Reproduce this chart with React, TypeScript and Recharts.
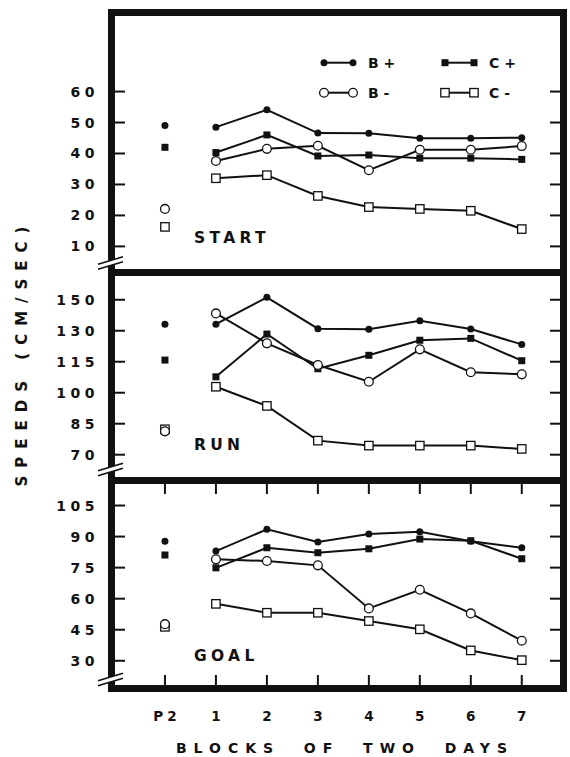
import React from "react";
import { ComposedChart, Line, XAxis, YAxis, Legend } from "recharts";

// categories (P2 = pretraining block, then blocks of two days)
const xValues = [0, 1, 2, 3, 4, 5, 6, 7];
const xLabels = ["P2", "1", "2", "3", "4", "5", "6", "7"];

// START speeds
const startBPlus = [49.0, 48.5, 54.1, 46.6, 46.5, 44.9, 44.9, 45.1];
const startCPlus = [42.0, 40.3, 46.0, 39.2, 39.5, 38.5, 38.5, 38.1];
const startBMinus = [22.1, 37.6, 41.5, 42.5, 34.6, 41.2, 41.2, 42.4];
const startCMinus = [16.3, 32.0, 33.0, 26.3, 22.7, 22.1, 21.5, 15.6];

// RUN speeds
const runBPlus = [133.2, 133.2, 146.2, 131.0, 130.7, 134.8, 130.8, 123.4];
const runCPlus = [115.8, 107.7, 128.4, 111.6, 118.1, 125.4, 126.3, 115.5];
const runBMinus = [81.3, 138.4, 123.9, 113.4, 105.3, 121.0, 109.9, 108.9];
const runCMinus = [82.3, 102.9, 93.6, 76.8, 74.4, 74.4, 74.4, 72.8];

// GOAL speeds
const goalBPlus = [87.7, 83.0, 93.5, 87.4, 91.2, 92.3, 87.7, 84.6];
const goalCPlus = [81.1, 74.9, 84.6, 82.2, 84.1, 88.8, 88.0, 79.3];
const goalBMinus = [47.7, 79.0, 78.2, 76.1, 55.3, 64.3, 52.9, 39.7];
const goalCMinus = [46.4, 57.5, 53.2, 53.2, 49.2, 45.2, 35.0, 30.3];

// y ticks (the RUN panel's top label reads 150 on the original)
const startTicks = [10, 20, 30, 40, 50, 60];
const startTickLabels = ["10", "20", "30", "40", "50", "60"];
const runTicks = [70, 85, 100, 115, 130, 145];
const runTickLabels = ["70", "85", "100", "115", "130", "150"];
const goalTicks = [30, 45, 60, 75, 90, 105];
const goalTickLabels = ["30", "45", "60", "75", "90", "105"];

type Kind = "bp" | "cp" | "bm" | "cm";
const SERIES: { key: Kind; name: string }[] = [
  { key: "bp", name: "B +" },
  { key: "cp", name: "C +" },
  { key: "cm", name: "C -" },
  { key: "bm", name: "B -" },
];

const FONT = "'DejaVu Sans', Verdana, sans-serif";
const INK = "#111";
const PLOT_LEFT = 115;
const PLOT_RIGHT = 560;
const PLOT_W = PLOT_RIGHT - PLOT_LEFT;

const Marker = ({ kind, cx, cy }: { kind: Kind; cx: number; cy: number }) => {
  if (kind === "bp") return <circle cx={cx} cy={cy} r={3.5} fill={INK} />;
  if (kind === "cp") return <rect x={cx - 3.5} y={cy - 3.5} width={7} height={7} fill={INK} />;
  if (kind === "bm") return <circle cx={cx} cy={cy} r={4.4} fill="#fff" stroke={INK} strokeWidth={1.3} />;
  return <rect x={cx - 4.2} y={cy - 4.2} width={8.4} height={8.4} fill="#fff" stroke={INK} strokeWidth={1.3} />;
};

const makeDot = (kind: Kind) => (p: any) => {
  const key = `${kind}-${p.index}`;
  if (p.value == null || p.cy == null || isNaN(p.cy)) return <g key={key} />;
  return (
    <g key={key}>
      <Marker kind={kind} cx={p.cx} cy={p.cy} />
    </g>
  );
};

const buildRows = (vals: Record<Kind, number[]>) =>
  xValues.map((x, i) => {
    const row: any = { x };
    SERIES.forEach((s) => {
      row[s.key] = i === 0 ? null : vals[s.key][i];
      row[s.key + "P2"] = i === 0 ? vals[s.key][i] : null;
    });
    return row;
  });

const LegendBox = () => {
  const items = [
    { kind: "bp" as Kind, name: "B +", x: 0, y: 10.7 },
    { kind: "cp" as Kind, name: "C +", x: 121, y: 10.7 },
    { kind: "bm" as Kind, name: "B -", x: 0, y: 40.7 },
    { kind: "cm" as Kind, name: "C -", x: 121, y: 40.7 },
  ];
  return (
    <svg width={220} height={52} style={{ display: "block" }}>
      {items.map((it) => (
        <g key={it.name}>
          <line x1={it.x + 6} x2={it.x + 35} y1={it.y} y2={it.y} stroke={INK} strokeWidth={2} />
          <Marker kind={it.kind} cx={it.x + 6} cy={it.y} />
          <Marker kind={it.kind} cx={it.x + 35} cy={it.y} />
          <text x={it.x + 50} y={it.y + 5} fontFamily={FONT} fontWeight="bold" fontSize={14} fill={INK}>
            {it.name}
          </text>
        </g>
      ))}
    </svg>
  );
};

const XTitle = (props: any) => {
  const vb = props.viewBox || { x: 0, y: 0, width: 0 };
  return (
    <text
      x={vb.x + vb.width / 2 + 7.5}
      y={vb.y + 68}
      textAnchor="middle"
      fontFamily={FONT}
      fontWeight="bold"
      fontSize={14}
      letterSpacing={7}
      fill={INK}
    >
      {"BLOCKS\u00a0\u00a0OF\u00a0\u00a0TWO\u00a0\u00a0DAYS"}
    </text>
  );
};

interface PanelProps {
  top: number;
  height: number;
  extra: number;
  domain: [number, number];
  ticks: number[];
  tickLabels: string[];
  values: Record<Kind, number[]>;
  name: string;
  nameY: number;
  legend?: boolean;
  xLabels?: boolean;
}

const Panel = ({ top, height, extra, domain, ticks, tickLabels, values, name, nameY, legend, xLabels: showX }: PanelProps) => {
  const rows = buildRows(values);
  return (
    <div style={{ position: "absolute", left: 0, top }}>
      <ComposedChart width={570} height={height + extra} data={rows} margin={{ top: 0, right: 570 - PLOT_RIGHT, bottom: 0, left: 0 }}>
        <XAxis
          dataKey="x"
          type="number"
          domain={[-0.98, 7.75]}
          ticks={xValues}
          interval={0}
          height={extra}
          tickSize={0}
          tickMargin={0}
          axisLine={false}
          tickLine={false}
          allowDataOverflow
          label={showX ? <XTitle /> : undefined}
          tick={(p: any) => {
            const i = xValues.indexOf(p.payload.value);
            return (
              <g key={`xt-${i}`}>
                <line x1={p.x} x2={p.x} y1={p.y} y2={p.y - 10} stroke={INK} strokeWidth={2} />
                <line x1={p.x} x2={p.x} y1={p.y - height} y2={p.y - height + 10} stroke={INK} strokeWidth={2} />
                {showX && (
                  <text x={p.x + 2} y={p.y + 36} textAnchor="middle" fontFamily={FONT} fontWeight="bold" fontSize={13.5} letterSpacing={4} fill={INK}>
                    {xLabels[i]}
                  </text>
                )}
              </g>
            );
          }}
        />
        <YAxis
          type="number"
          domain={domain}
          ticks={ticks}
          interval={0}
          width={PLOT_LEFT}
          tickSize={0}
          tickMargin={0}
          axisLine={false}
          tickLine={false}
          allowDataOverflow
          tick={(p: any) => {
            const i = ticks.indexOf(p.payload.value);
            return (
              <g key={`yt-${i}`}>
                <line x1={p.x} x2={p.x + 10} y1={p.y} y2={p.y} stroke={INK} strokeWidth={2} />
                <line x1={p.x + PLOT_W - 10} x2={p.x + PLOT_W} y1={p.y} y2={p.y} stroke={INK} strokeWidth={2} />
                <text x={p.x - 16} y={p.y + 5} textAnchor="end" fontFamily={FONT} fontWeight="bold" fontSize={14} letterSpacing={4.5} fill={INK}>
                  {tickLabels[i]}
                </text>
              </g>
            );
          }}
        />
        {SERIES.map((s) => (
          <Line
            key={s.key}
            dataKey={s.key}
            name={s.name}
            stroke={INK}
            strokeWidth={2}
            dot={makeDot(s.key)}
            activeDot={false}
            connectNulls={false}
            isAnimationActive={false}
          />
        ))}
        {SERIES.map((s) => (
          <Line
            key={s.key + "P2"}
            dataKey={s.key + "P2"}
            name={s.name}
            stroke="none"
            dot={makeDot(s.key)}
            activeDot={false}
            legendType="none"
            isAnimationActive={false}
          />
        ))}
        {legend && (
          <Legend
            layout="horizontal"
            verticalAlign="middle"
            align="center"
            wrapperStyle={{ position: "absolute", left: 318, top: 36, width: 220, height: 52 }}
            content={() => <LegendBox />}
          />
        )}
        <text x={194} y={nameY} fontFamily={FONT} fontWeight="bold" fontSize={15.5} letterSpacing={4.3} fill={INK}>
          {name}
        </text>
      </ComposedChart>
    </div>
  );
};

const Break = ({ cy }: { cy: number }) => {
  const y = (x: number, off: number) => cy + off - 0.3 * (x - 110.5);
  return (
    <g>
      <polygon points={`98,${y(98, -2.5)} 123,${y(123, -2.5)} 123,${y(123, 2.5)} 98,${y(98, 2.5)}`} fill="#fff" />
      <line x1={98} y1={y(98, -2.5)} x2={123} y2={y(123, -2.5)} stroke={INK} strokeWidth={1.8} />
      <line x1={98} y1={y(98, 2.5)} x2={123} y2={y(123, 2.5)} stroke={INK} strokeWidth={1.8} />
    </g>
  );
};

const App = () => {
  return (
    <div style={{ position: "absolute", left: 0, top: 0, width: 570, height: 757, background: "#fff", overflow: "hidden" }}>
      <Panel
        top={16}
        height={253}
        extra={0}
        domain={[2.7, 84.4]}
        ticks={startTicks}
        tickLabels={startTickLabels}
        values={{ bp: startBPlus, cp: startCPlus, bm: startBMinus, cm: startCMinus }}
        name="START"
        nameY={226.5}
        legend
      />
      <Panel
        top={276}
        height={201}
        extra={0}
        domain={[59.2, 156.5]}
        ticks={runTicks}
        tickLabels={runTickLabels}
        values={{ bp: runBPlus, cp: runCPlus, bm: runBMinus, cm: runCMinus }}
        name="RUN"
        nameY={173.5}
      />
      <Panel
        top={484}
        height={201}
        extra={72}
        domain={[18.3, 115.4]}
        ticks={goalTicks}
        tickLabels={goalTickLabels}
        values={{ bp: goalBPlus, cp: goalCPlus, bm: goalBMinus, cm: goalCMinus }}
        name="GOAL"
        nameY={176.5}
        xLabels
      />
      <svg width={570} height={757} style={{ position: "absolute", left: 0, top: 0, pointerEvents: "none" }}>
        <rect x={108} y={9} width={459} height={7} fill={INK} />
        <rect x={108} y={685} width={459} height={7} fill={INK} />
        <rect x={108} y={9} width={7} height={683} fill={INK} />
        <rect x={560} y={9} width={7} height={683} fill={INK} />
        <rect x={108} y={269} width={459} height={7} fill={INK} />
        <rect x={108} y={477} width={459} height={7} fill={INK} />
        <Break cy={263} />
        <Break cy={469.5} />
        <Break cy={679.5} />
        <text
          x={26.5}
          y={352.5}
          transform="rotate(-90, 26.5, 352.5)"
          textAnchor="middle"
          fontFamily={FONT}
          fontWeight="bold"
          fontSize={15}
          letterSpacing={8}
          fill={INK}
        >
          SPEEDS (CM/SEC)
        </text>
      </svg>
    </div>
  );
};

export default App;
